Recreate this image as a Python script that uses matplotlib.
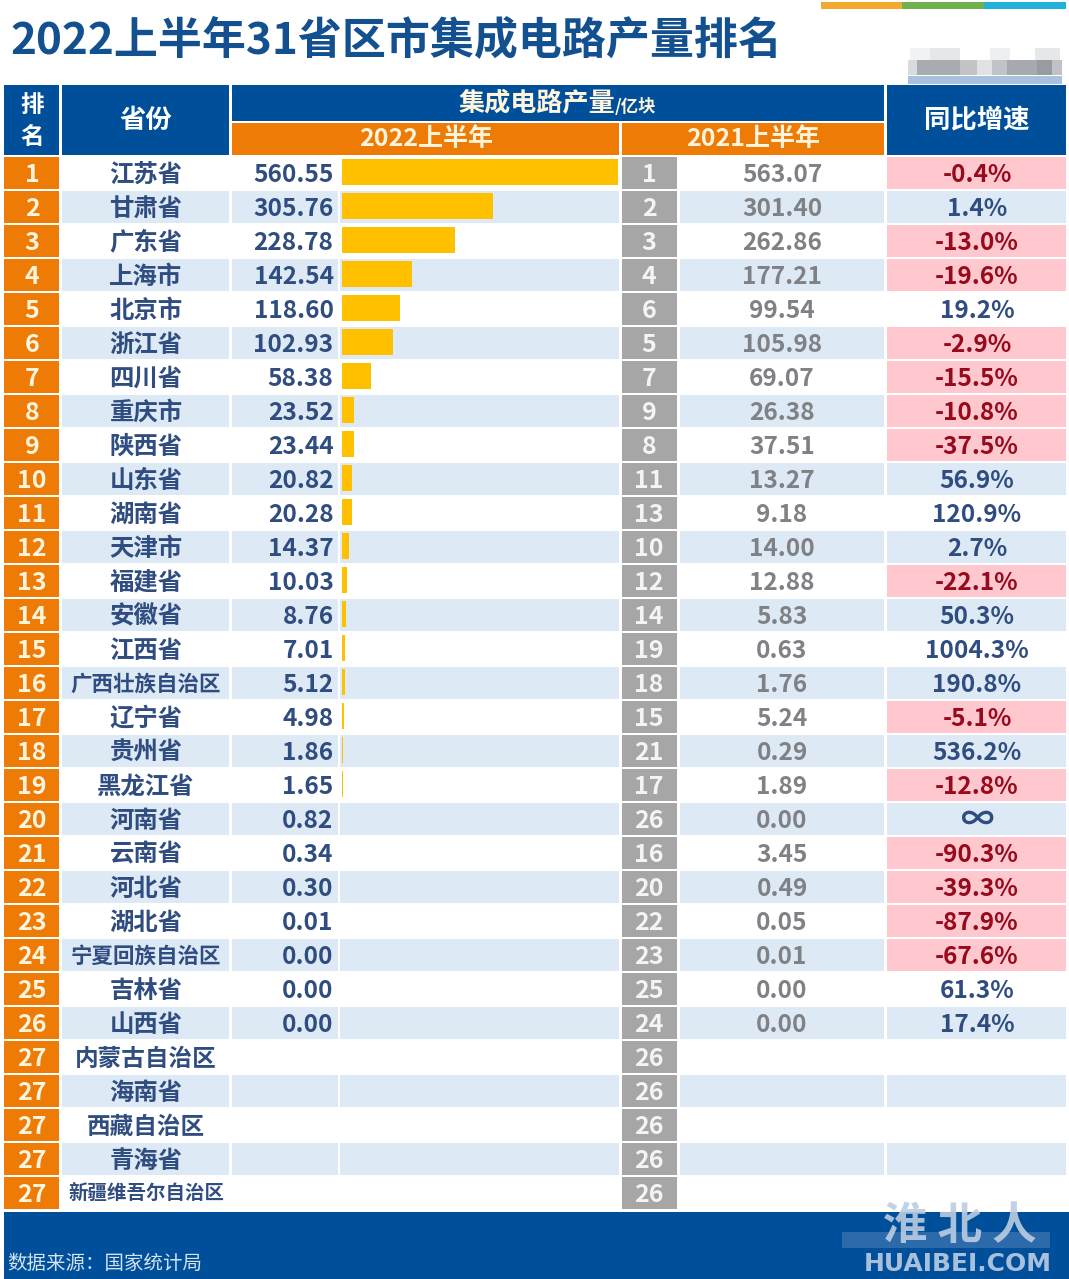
import matplotlib
matplotlib.use("Agg")
import matplotlib.pyplot as plt
from matplotlib.patches import Rectangle

plt.rcParams["font.family"] = ["Noto Sans CJK SC", "DejaVu Sans"]

# Table data
ranks_2022 = [str(i) for i in range(1, 27)] + ["27"] * 5
provinces = [
    "江苏省", "甘肃省", "广东省", "上海市", "北京市", "浙江省", "四川省", "重庆市",
    "陕西省", "山东省", "湖南省", "天津市", "福建省", "安徽省", "江西省", "广西壮族自治区",
    "辽宁省", "贵州省", "黑龙江省", "河南省", "云南省", "河北省", "湖北省", "宁夏回族自治区",
    "吉林省", "山西省", "内蒙古自治区", "海南省", "西藏自治区", "青海省", "新疆维吾尔自治区",
]
output_2022 = [
    560.55, 305.76, 228.78, 142.54, 118.60, 102.93, 58.38, 23.52, 23.44, 20.82, 20.28,
    14.37, 10.03, 8.76, 7.01, 5.12, 4.98, 1.86, 1.65, 0.82, 0.34, 0.30, 0.01, 0.00,
    0.00, 0.00, None, None, None, None, None,
]
ranks_2021 = [
    "1", "2", "3", "4", "6", "5", "7", "9", "8", "11", "13", "10", "12", "14", "19", "18",
    "15", "21", "17", "26", "16", "20", "22", "23", "25", "24", "26", "26", "26", "26", "26",
]
output_2021 = [
    563.07, 301.40, 262.86, 177.21, 99.54, 105.98, 69.07, 26.38, 37.51, 13.27, 9.18,
    14.00, 12.88, 5.83, 0.63, 1.76, 5.24, 0.29, 1.89, 0.00, 3.45, 0.49, 0.05, 0.01,
    0.00, 0.00, None, None, None, None, None,
]
growth = [
    "-0.4%", "1.4%", "-13.0%", "-19.6%", "19.2%", "-2.9%", "-15.5%", "-10.8%", "-37.5%",
    "56.9%", "120.9%", "2.7%", "-22.1%", "50.3%", "1004.3%", "190.8%", "-5.1%", "536.2%",
    "-12.8%", "∞", "-90.3%", "-39.3%", "-87.9%", "-67.6%", "61.3%", "17.4%", "", "", "", "", "",
]

# Colours
navy = "#004f9a"
orange = "#ee7b06"
gold = "#ffc000"
gray = "#a6a6a6"
stripe = "#dde9f5"
pink = "#ffc7ce"
ink = "#2f4d80"
gray_ink = "#7f8184"
red_ink = "#960a1c"
cream = "#fff4dc"

W, H = 1069, 1279
ROW0, ROW_H, CELL_H = 157, 34, 32

fig = plt.figure(figsize=(W / 100, H / 100), dpi=100, facecolor="white")
ax = fig.add_axes([0, 0, 1, 1])
ax.set_xlim(0, W)
ax.set_ylim(H, 0)
ax.axis("off")


def box(x0, y0, x1, y1, color, **kw):
    ax.add_patch(Rectangle((x0, y0), x1 - x0, y1 - y0, facecolor=color, edgecolor="none", **kw))


def label(x, y, s, size, color, weight="bold", ha="center", **kw):
    # the CJK font sits about 2px high when centred
    ax.text(x, y + 2, s, fontsize=size, color=color, fontweight=weight, ha=ha, va="center", **kw)


# Title and top strip
label(10, 38, "2022上半年31省区市集成电路产量排名", 31.7, "#12508f", ha="left")
box(821, 2, 902, 9, "#f2a92c")
box(902, 2, 984, 9, "#70b24e")
box(984, 2, 1066, 9, "#1fb2d6")

# Blurred stamp at the top right
box(908, 76, 1062, 84, "#a9c0de")
for x0, x1, c in [(908, 917, "#d8dce0"), (917, 960, "#a8abb0"), (960, 977, "#c2c4c8"),
                  (977, 992, "#e0e2e4"), (992, 1007, "#c0c3c7"), (1007, 1037, "#a6a9ae"),
                  (1037, 1052, "#989ba0"), (1052, 1062, "#c0c3c6")]:
    box(x0, 60, x1, 75, c)
for x0, x1, c in [(910, 930, "#f1f2f3"), (930, 960, "#e6e7e9"), (990, 1010, "#eeeff0"),
                  (1035, 1060, "#e6e7e9")]:
    box(x0, 48, x1, 60, c)

# Header
box(4, 85, 59, 155, navy)
box(62, 85, 229, 155, navy)
box(232, 85, 884, 121, navy)
box(232, 123, 619, 155, orange)
box(622, 123, 884, 155, orange)
box(887, 85, 1066, 155, navy)
label(32, 103, "排", 17, "white")
label(32, 135, "名", 17, "white")
label(146, 118, "省份", 19, "white")
label(537, 102, "集成电路产量", 18.8, cream)
label(615, 105, "/亿块", 12.5, cream, ha="left")
label(426, 137, "2022上半年", 18, cream)
label(753, 137, "2021上半年", 18, cream)
label(977, 118, "同比增速", 19, "white")

# Rows
for i in range(len(provinces)):
    top = ROW0 + ROW_H * i
    bottom = top + CELL_H
    mid = top + CELL_H / 2
    bg = stripe if i % 2 else "white"
    box(4, top, 59, bottom, orange)
    box(62, top, 229, bottom, bg)
    box(232, top, 338, bottom, bg)
    box(340, top, 619, bottom, bg)
    box(622, top, 677, bottom, gray)
    box(680, top, 884, bottom, bg)
    box(887, top, 1066, bottom, pink if growth[i].startswith("-") else bg)

    label(32, mid - 0.5, ranks_2022[i], 18, cream)
    label(649, mid - 0.5, ranks_2021[i], 18, "#f4f4f4")

    name = provinces[i]
    if len(name) <= 4:
        name_size = 17.6
    elif len(name) <= 6:
        name_size = 17
    elif len(name) == 7:
        name_size = 15.5
    else:
        name_size = 14
    label(146, mid - 0.5, name, name_size, ink)

    if output_2022[i] is not None:
        label(333.5, mid - 0.5, f"{output_2022[i]:.2f}", 17.6, ink, ha="right")
        label(782, mid - 0.5, f"{output_2021[i]:.2f}", 17.6, gray_ink)
    if growth[i] == "∞":
        label(977, mid - 0.5, growth[i], 24, ink)
    elif growth[i]:
        label(977, mid - 0.5, growth[i], 17.6, red_ink if growth[i].startswith("-") else ink)

# Footer
box(4, 1212, W, H, navy)
label(7, 1261, "数据来源：国家统计局", 14, "#d5e2f0", weight="normal", ha="left")

# Watermark
box(842, 1232, 1050, 1248, "#7f9fc8", alpha=0.35)
label(960, 1224, "淮 北 人", 32, "#bccde2", alpha=0.9)
label(958, 1262, "HUAIBEI.COM", 18, "#a9c0dc", family=["DejaVu Sans"])

# Bars on their own value scale
ax_bar = fig.add_axes([342 / W, 1 - (ROW0 + ROW_H * 31) / H, 276 / W, ROW_H * 31 / H])
ax_bar.patch.set_alpha(0)
ax_bar.axis("off")
ax_bar.set_xlim(0, max(v for v in output_2022 if v is not None))
ax_bar.set_ylim(31, 0)
bar_y = [i + 0.44 for i in range(31)]
bar_w = [v if v is not None else 0 for v in output_2022]
ax_bar.barh(bar_y, bar_w, height=0.76, color=gold)

fig.savefig("out.png", dpi=100)
